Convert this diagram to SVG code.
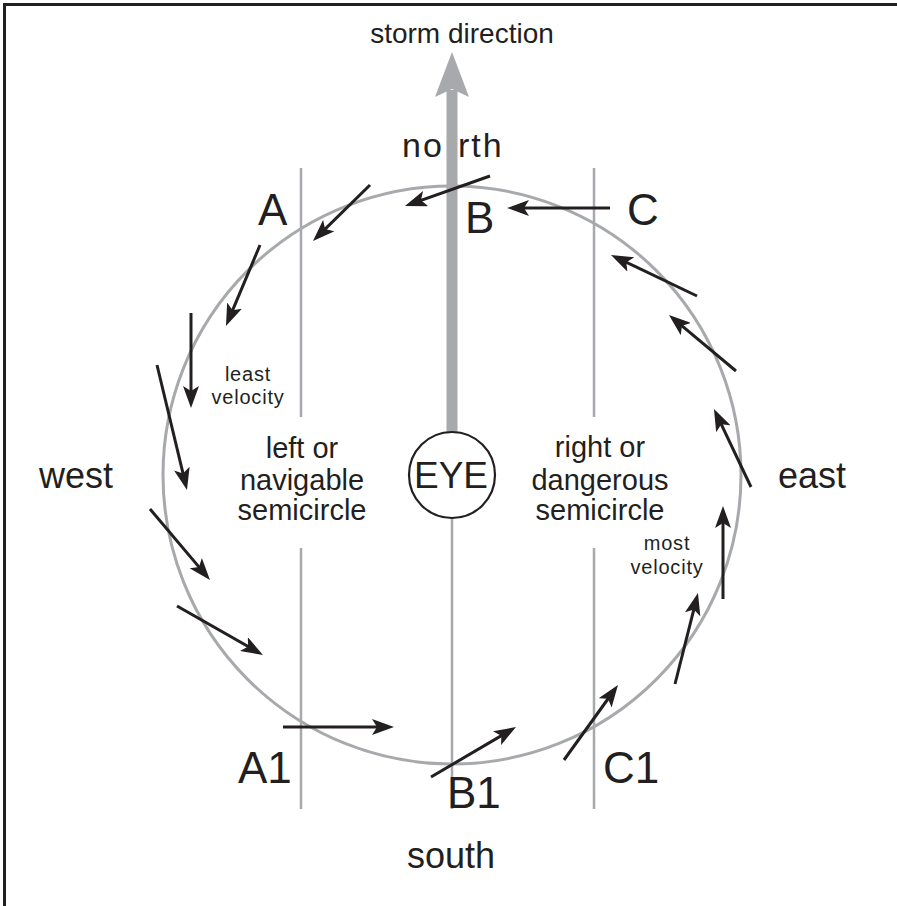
<svg xmlns="http://www.w3.org/2000/svg" width="897" height="906" viewBox="0 0 897 906">
<defs>
<style>
.t{font-family:"Liberation Sans",Arial,Helvetica,sans-serif;fill:#231f20}
.big{font-size:44px}
.lbl{font-size:36px}
.mid{font-size:29px}
.sm{font-size:20px;letter-spacing:0.8px}
.c{text-anchor:middle}
.g{stroke:#a7a9ac;fill:none}
.ar{stroke:#231f20;stroke-width:3;fill:none;marker-end:url(#ah)}
</style>
<marker id="ah" markerUnits="userSpaceOnUse" viewBox="0 0 22 16" refX="14" refY="8" markerWidth="22" markerHeight="16" orient="auto">
<path d="M0,0 L22,8 L0,16 L5,8 Z" fill="#231f20"/>
</marker>
</defs>
<rect width="897" height="906" fill="#fff"/>
<g id="frame" stroke="#231f20" stroke-width="3">
<line x1="3" y1="4.5" x2="897" y2="4.5"/>
<line x1="4.5" y1="3" x2="4.5" y2="906"/>
</g>
<g id="storm-direction">
<line x1="452" y1="90" x2="452" y2="432" stroke="#a7a9ac" stroke-width="11"/>
<path d="M452,52 L469,97 L452,89 L435,97 Z" fill="#a7a9ac"/>
<text class="t c" font-size="28" x="462" y="43">storm direction</text>
</g>
<g id="storm-circle">
<circle cx="452" cy="475" r="289" class="g" stroke-width="3"/>
</g>
<g id="dividers" class="g" stroke-width="2.5">
<line x1="301" y1="168" x2="301" y2="417"/>
<line x1="301" y1="548" x2="301" y2="809"/>
<line x1="594" y1="168" x2="594" y2="417"/>
<line x1="594" y1="548" x2="594" y2="809"/>
<line x1="452" y1="518" x2="452" y2="809"/>
</g>
<g id="eye">
<circle cx="452" cy="475" r="43" fill="#fff" stroke="#231f20" stroke-width="2.2"/>
<text class="t c" x="451" y="488" font-size="37">EYE</text>
</g>
<g id="connectors">
<line class="ar" x1="490" y1="176" x2="412.5" y2="203.3"/>
<line class="ar" x1="370" y1="185" x2="318.7" y2="235.4"/>
<line class="ar" x1="260" y1="245" x2="229.1" y2="318.6"/>
<line class="ar" x1="191" y1="313" x2="191" y2="400"/>
<line class="ar" x1="157" y1="365" x2="185.1" y2="482.2"/>
<line class="ar" x1="150" y1="509" x2="204.8" y2="573.9"/>
<line class="ar" x1="177" y1="606" x2="256" y2="651"/>
<line class="ar" x1="283" y1="727" x2="386" y2="727"/>
<line class="ar" x1="431" y1="777" x2="509.1" y2="731.1"/>
<line class="ar" x1="564" y1="760" x2="613.3" y2="691.5"/>
<line class="ar" x1="675" y1="684" x2="696" y2="600.8"/>
<line class="ar" x1="723" y1="599" x2="723" y2="514"/>
<line class="ar" x1="751" y1="487" x2="717.4" y2="416.2"/>
<line class="ar" x1="736" y1="371" x2="675.1" y2="320.1"/>
<line class="ar" x1="697" y1="296" x2="618.2" y2="258.4"/>
<line class="ar" x1="610" y1="208" x2="515" y2="208"/>
</g>
<g id="north"><text class="t" font-size="34" y="157" letter-spacing="2"><tspan x="402">no</tspan><tspan x="458">rth</tspan></text></g>
<g id="south"><text class="t lbl c" x="451" y="868">south</text></g>
<g id="west"><text class="t lbl" x="39" y="488">west</text></g>
<g id="east"><text class="t lbl" x="778" y="488">east</text></g>
<g id="A"><text class="t big" x="258" y="225">A</text></g>
<g id="B"><text class="t big" x="465" y="233">B</text></g>
<g id="C"><text class="t big" x="627" y="225">C</text></g>
<g id="A1"><text class="t big" x="238" y="783">A1</text></g>
<g id="B1"><text class="t big" x="447" y="808">B1</text></g>
<g id="C1"><text class="t big" x="603" y="783">C1</text></g>
<g id="left-semicircle"><text class="t mid c"><tspan x="302" y="458">left or</tspan><tspan x="302" y="490">navigable</tspan><tspan x="302" y="520">semicircle</tspan></text></g>
<g id="right-semicircle"><text class="t mid c"><tspan x="600" y="457">right or</tspan><tspan x="600" y="490">dangerous</tspan><tspan x="600" y="520">semicircle</tspan></text></g>
<g id="least-velocity"><text class="t sm c"><tspan x="248" y="381">least</tspan><tspan x="248" y="404">velocity</tspan></text></g>
<g id="most-velocity"><text class="t sm c"><tspan x="667" y="550">most</tspan><tspan x="667" y="574">velocity</tspan></text></g>
</svg>
